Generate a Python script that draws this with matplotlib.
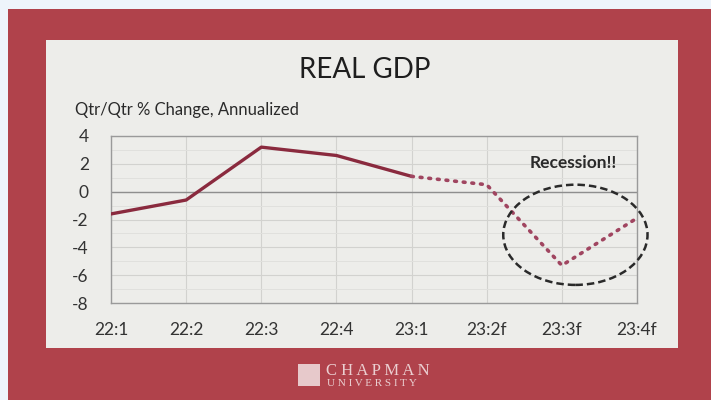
import matplotlib.pyplot as plt
from matplotlib.patches import Rectangle, Ellipse

quarters = ['22:1', '22:2', '22:3', '22:4', '23:1', '23:2f', '23:3f', '23:4f']
actual = [-1.6, -0.6, 3.2, 2.6, 1.1]
forecast = [1.1, 0.5, -5.3, -1.9]

plt.rcParams['font.family'] = ['Lato', 'DejaVu Sans']
plt.rcParams['axes.unicode_minus'] = False

fig = plt.figure(figsize=(7.11, 4.0), dpi=100)
fig.patch.set_facecolor('#EEF4FB')

# red slide background and light panel
fig.patches.append(Rectangle((8/711, 0), 1, 1 - 9/400, transform=fig.transFigure,
                             facecolor='#B0424B', edgecolor='none', zorder=0))
fig.patches.append(Rectangle((46/711, 1 - 348/400), (678 - 46)/711, (348 - 40)/400,
                             transform=fig.transFigure, facecolor='#EDEDEA',
                             edgecolor='none', zorder=1))

ax = fig.add_axes([111/711, 1 - 303/400, 526/711, 167/400])
ax.set_zorder(5)
ax.set_facecolor('#EDEDEA')

x = list(range(len(quarters)))
ax.plot(x[:5], actual, color='#8A2A3E', lw=2.4, solid_capstyle='round', zorder=3)
ax.plot(x[4:], forecast, color='#A04560', lw=2.6, linestyle=(0, (0.5, 1.9)),
        dash_capstyle='round', zorder=3)

ax.set_xlim(0, 7)
ax.set_ylim(-8, 4)
ax.set_xticks(x)
ax.set_xticklabels(quarters)
ax.set_yticks(range(-8, 5, 2))
ax.set_yticks(range(-7, 4, 2), minor=True)
ax.tick_params(axis='both', length=0, labelsize=12.5, colors='#333333')
ax.tick_params(axis='x', pad=14)
ax.tick_params(axis='y', pad=16)
ax.tick_params(which='minor', length=0)
ax.grid(True, which='major', color='#D2D2CF', lw=0.8)
ax.grid(True, which='minor', axis='y', color='#E0E0DD', lw=0.7)
ax.axhline(0, color='#8E8E8E', lw=1.0, zorder=2)
for s in ax.spines.values():
    s.set_color('#9A9A9A')
    s.set_linewidth(1.0)

ax.add_patch(Ellipse((6.18, -3.1), 1.92, 7.2, fill=False, edgecolor='#2A2A2A',
                     lw=1.8, linestyle=(0, (3, 1.6)), clip_on=False, zorder=4))
ax.text(6.15, 2.05, 'Recession!!', ha='center', va='center', fontsize=12.5,
        fontweight='bold', color='#2A2A2A')

fig.text(365/711, 1 - 70/400, 'REAL GDP', ha='center', va='center',
         fontsize=20, color='#1E1E1E')
fig.text(75/711, 1 - 110/400, 'Qtr/Qtr % Change, Annualized', ha='left',
         va='center', fontsize=12, color='#2A2A2A')

# logo
fig.patches.append(Rectangle((298/711, 1 - 386/400), 22/711, 22/400,
                             transform=fig.transFigure, facecolor='#E7C9CB',
                             edgecolor='none', zorder=2))
fig.text(326/711, 1 - 371/400, 'C H A P M A N', ha='left', va='center', fontsize=12,
         family='Liberation Serif', color='#EBCFD1')
fig.text(327/711, 1 - 384/400, 'U N I V E R S I T Y', ha='left', va='center', fontsize=8,
         family='Liberation Serif', color='#EBCFD1')

fig.savefig('out.png', dpi=100, facecolor=fig.get_facecolor())
